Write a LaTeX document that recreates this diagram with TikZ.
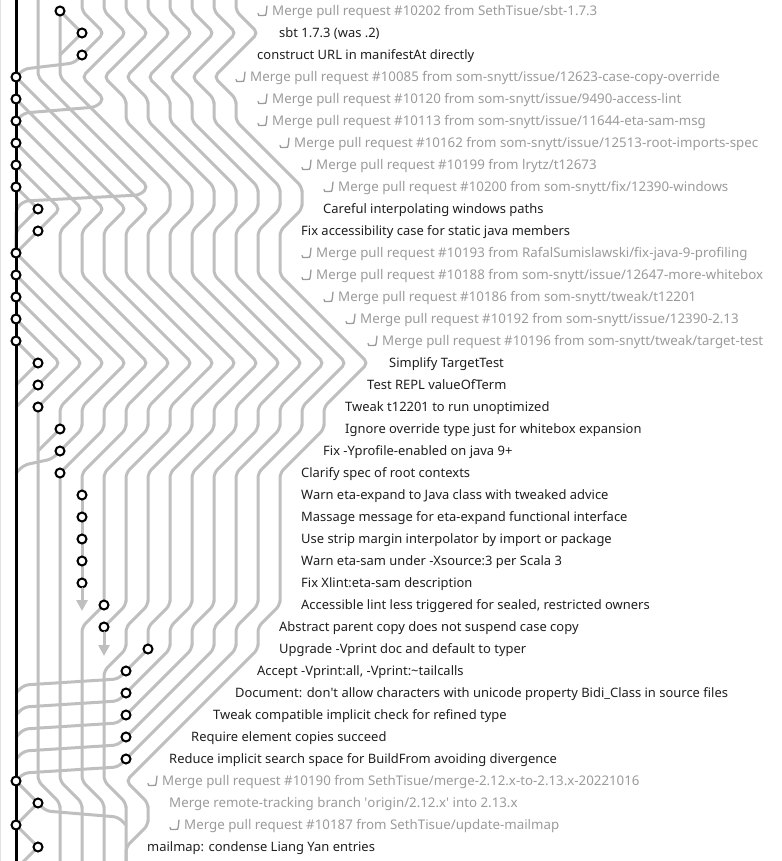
\documentclass[tikz,border=0pt]{standalone}
\usepackage{fontspec}
\setmainfont{Noto Sans}
\usetikzlibrary{arrows.meta}
\definecolor{lanegray}{HTML}{BFBFBF}
\definecolor{mergegray}{HTML}{9A9A9A}
\definecolor{msgblack}{HTML}{1E1E1E}
\tikzset{
  lane/.style={draw=lanegray, line width=3pt, rounded corners=5pt, line cap=round},
  mainline/.style={draw=black, line width=3pt},
  commit/.style={circle, draw=black, fill=white, line width=2pt, minimum size=9pt, inner sep=0pt},
  msg/.style={anchor=base west, inner sep=0pt, text=msgblack, font=\fontsize{12.95}{16}\selectfont},
  mergemsg/.style={msg, text=mergegray, font=\fontsize{13.3}{16}\selectfont},
  arrowlane/.style={lane, rounded corners=0pt, -{Triangle[width=11pt,length=11pt]}},
  mergeicon/.pic={\draw[mergegray, line width=1.3pt, line cap=round, line join=round]
    (-5,2.5) -- (-4.2,4.5) -- (0,4.5) .. controls (3,4.5) .. (3.3,1.5) -- (4,-5);}
}
% one lane: start row, start column, then the column of every following row
\newcommand\gitlane[3]{%
  \pgfmathtruncatemacro\lanerow{#1+1}%
  \draw[lane] ({16+22*(#2)},{11+22*(#1)})
    \foreach \cl [count=\rw from \lanerow, remember=\cl as \pc (initially #2)] in {#3}
      { -- ({16+22*(\pc)+8*sign((\cl)-(\pc))},{22*\rw-3})
        -- ({16+22*(\cl)-8*sign((\cl)-(\pc))},{22*\rw+3})
        -- ({16+22*(\cl)},{11+22*\rw}) };
}

\begin{document}
\begin{tikzpicture}[x=1pt, y=-1pt]
\useasboundingbox (0,0) rectangle (781,861);

% lanes coming from above
\gitlane{-1}{1}{1,1,1,1,2,3,4,5,6,0,0,0}
\gitlane{-1}{3}{3,4,3}
\gitlane{-1}{4}{4,5,4,3,4,0}
\gitlane{-1}{5}{5,6,5,4,5,5,6,7,8,8,7,7,7,8,9,10,11,10,9,9,8,7,7,7,7,7,7,7,6,6}
\gitlane{-1}{6}{6,7,6,5,6,6,7,8,9,9,8,8,8,9,10,11,12,11,10,10,9,8,8,8,8,8,8,8,7,7,6,5}
\gitlane{-1}{7}{7,8,7,6,7,7,8,9,10,10,9,9,9,10,11,12,13,12,11,11,10,9,9,9,9,9,9,9,8,8,7,6,5}
\gitlane{-1}{8}{8,9,8,7,8,8,9,10,11,11,10,10,10,11,12,13,14,13,12,12,11,10,10,10,10,10,10,10,9,9,8,7,6,5}
\gitlane{-1}{9}{9,10,9,8,9,9,10,11,12,12,11,11,11,12,13,14,15,14,13,13,12,11,11,11,11,11,11,11,10,10,9,8,7,6,5}
\gitlane{-1}{10}{10,11,10,9,10,10,11,12,13,13,12,12,12,13,14,15,16,15,14,14,13,12,12,12,12,12,12,12,11,11,10,9,8,7,6,5,6,6,5,5}

% lanes from the commits
\gitlane{0}{2}{3}
\gitlane{1}{3}{2}
\gitlane{0}{2}{2,2,2,3,4,5,6,7,7,6,6,6,7,8,9,10,9,8,8,7,6,6,6,6,6,6,6,5,5,4,4,4,4,4,4,5,5,5,5}
\gitlane{2}{3}{0}
\gitlane{3}{0}{1,2,3,4,5,6,5,5,5,6,7,8,9,8,7,7,6,5,5,5,5,5,5,5,4}
\gitlane{4}{0}{1,2,3,4,5,4,4,4,5,6,7,8,7,6,6,5,4,4,4,4,4,4,4}
\gitlane{5}{0}{1,2,3,4,3,3,3,4,5,6,7,6,5,5,4,3,3}
\gitlane{6}{0}{1,2,3,2,2,2,3,4,5,6,5,4,4,3,2}
\gitlane{7}{0}{1,2,1}
\gitlane{8}{0}{1}
\gitlane{9}{1}{0,0}
\gitlane{10}{1}{0}
\gitlane{11}{0}{1,2,3,4,5,4,3,3,2}
\gitlane{12}{0}{1,2,3,4,3,2,2}
\gitlane{13}{0}{1,2,3,2,1}
\gitlane{14}{0}{1,2,1}
\gitlane{15}{0}{1}
\gitlane{16}{1}{0}
\gitlane{17}{1}{0}
\gitlane{18}{1}{1,1,1,1,1,1,1,1,1,1,1,1,1,1,1,1,1,2,2,2,2}
\gitlane{19}{2}{1}
\gitlane{20}{2}{0}
\gitlane{21}{2}{2,2,2,2,2,2,2,2,2,2,2,2,2,2,3,3,3,3}
\gitlane{22}{3}{3,3,3,3}
\gitlane{27}{4}{3,3,3,3,3,3,3,3,4,4,4,4}
\gitlane{29}{6}{5}
\gitlane{30}{5}{0}
\gitlane{31}{5}{0}
\gitlane{32}{5}{0}
\gitlane{33}{5}{0}
\gitlane{34}{5}{0}
\gitlane{35}{0}{1}
\gitlane{36}{1}{0}
\gitlane{36}{1}{5}
\gitlane{37}{0}{1}
\gitlane{38}{1}{0}

\coordinate (edgetop) at (0.8,0);
\coordinate (edgebottom) at (0.8,861);
\draw[lanegray!45, line width=1pt] (edgetop) -- (edgebottom);
\coordinate (headtop) at (16,-5);
\coordinate (headbottom) at (16,866);
\draw[mainline] (headtop) -- (headbottom);

\foreach \rw/\cl in {0/2,1/3,2/3,3/0,4/0,5/0,6/0,7/0,8/0,9/1,10/1,11/0,12/0,13/0,14/0,15/0,
  16/1,17/1,18/1,19/2,20/2,21/2,22/3,23/3,24/3,25/3,26/3,27/4,28/4,29/6,30/5,31/5,32/5,33/5,34/5,
  35/0,36/1,37/0,38/1}
  \node[commit] (c\rw) at ({16+22*\cl},{11+22*\rw}) {};

\coordinate (tip26) at (82,611);
\coordinate (tip28) at (104,656);
\draw[arrowlane] (c26) -- (tip26);
\draw[arrowlane] (c28) -- (tip28);

\pic at (263,11) {mergeicon};
\node[mergemsg] (t0) at (272,15.8) {Merge pull request \#10202 from SethTisue/sbt-1.7.3};
\node[msg] (t1) at (279,37.8) {sbt 1.7.3 (was .2)};
\node[msg] (t2) at (257,59.8) {construct URL in manifestAt directly};
\pic at (241,77) {mergeicon};
\node[mergemsg] (t3) at (250,81.8) {Merge pull request \#10085 from som-snytt/issue/12623-case-copy-override};
\pic at (263,99) {mergeicon};
\node[mergemsg] (t4) at (272,103.8) {Merge pull request \#10120 from som-snytt/issue/9490-access-lint};
\pic at (263,121) {mergeicon};
\node[mergemsg] (t5) at (272,125.8) {Merge pull request \#10113 from som-snytt/issue/11644-eta-sam-msg};
\pic at (285,143) {mergeicon};
\node[mergemsg] (t6) at (294,147.8) {Merge pull request \#10162 from som-snytt/issue/12513-root-imports-spec};
\pic at (307,165) {mergeicon};
\node[mergemsg] (t7) at (316,169.8) {Merge pull request \#10199 from lrytz/t12673};
\pic at (329,187) {mergeicon};
\node[mergemsg] (t8) at (338,191.8) {Merge pull request \#10200 from som-snytt/fix/12390-windows};
\node[msg] (t9) at (323,213.8) {Careful interpolating windows paths};
\node[msg] (t10) at (301,235.8) {Fix accessibility case for static java members};
\pic at (307,253) {mergeicon};
\node[mergemsg] (t11) at (316,257.8) {Merge pull request \#10193 from RafalSumislawski/fix-java-9-profiling};
\pic at (307,275) {mergeicon};
\node[mergemsg] (t12) at (316,279.8) {Merge pull request \#10188 from som-snytt/issue/12647-more-whitebox};
\pic at (329,297) {mergeicon};
\node[mergemsg] (t13) at (338,301.8) {Merge pull request \#10186 from som-snytt/tweak/t12201};
\pic at (351,319) {mergeicon};
\node[mergemsg] (t14) at (360,323.8) {Merge pull request \#10192 from som-snytt/issue/12390-2.13};
\pic at (373,341) {mergeicon};
\node[mergemsg] (t15) at (382,345.8) {Merge pull request \#10196 from som-snytt/tweak/target-test};
\node[msg] (t16) at (389,367.8) {Simplify TargetTest};
\node[msg] (t17) at (367,389.8) {Test REPL valueOfTerm};
\node[msg] (t18) at (345,411.8) {Tweak t12201 to run unoptimized};
\node[msg] (t19) at (345,433.8) {Ignore override type just for whitebox expansion};
\node[msg] (t20) at (323,455.8) {Fix -Yprofile-enabled on java 9+};
\node[msg] (t21) at (301,477.8) {Clarify spec of root contexts};
\node[msg] (t22) at (301,499.8) {Warn eta-expand to Java class with tweaked advice};
\node[msg] (t23) at (301,521.8) {Massage message for eta-expand functional interface};
\node[msg] (t24) at (301,543.8) {Use strip margin interpolator by import or package};
\node[msg] (t25) at (301,565.8) {Warn eta-sam under -Xsource:3 per Scala 3};
\node[msg] (t26) at (301,587.8) {Fix Xlint:eta-sam description};
\node[msg] (t27) at (301,609.8) {Accessible lint less triggered for sealed, restricted owners};
\node[msg] (t28) at (279,631.8) {Abstract parent copy does not suspend case copy};
\node[msg] (t29) at (279,653.8) {Upgrade -Vprint doc and default to typer};
\node[msg] (t30) at (257,675.8) {Accept -Vprint:all, -Vprint:\textasciitilde tailcalls};
\node[msg] (t31) at (235,697.8) {Document: don\textquotesingle t allow characters with unicode property Bidi\_Class in source files};
\node[msg] (t32) at (213,719.8) {Tweak compatible implicit check for refined type};
\node[msg] (t33) at (191,741.8) {Require element copies succeed};
\node[msg] (t34) at (169,763.8) {Reduce implicit search space for BuildFrom avoiding divergence};
\pic at (153,781) {mergeicon};
\node[mergemsg] (t35) at (162,785.8) {Merge pull request \#10190 from SethTisue/merge-2.12.x-to-2.13.x-20221016};
\node[mergemsg] (t36) at (169,807.8) {Merge remote-tracking branch \textquotesingle origin/2.12.x\textquotesingle{} into 2.13.x};
\pic at (175,825) {mergeicon};
\node[mergemsg] (t37) at (184,829.8) {Merge pull request \#10187 from SethTisue/update-mailmap};
\node[msg] (t38) at (147,851.8) {mailmap: condense Liang Yan entries};
\end{tikzpicture}
\end{document}
